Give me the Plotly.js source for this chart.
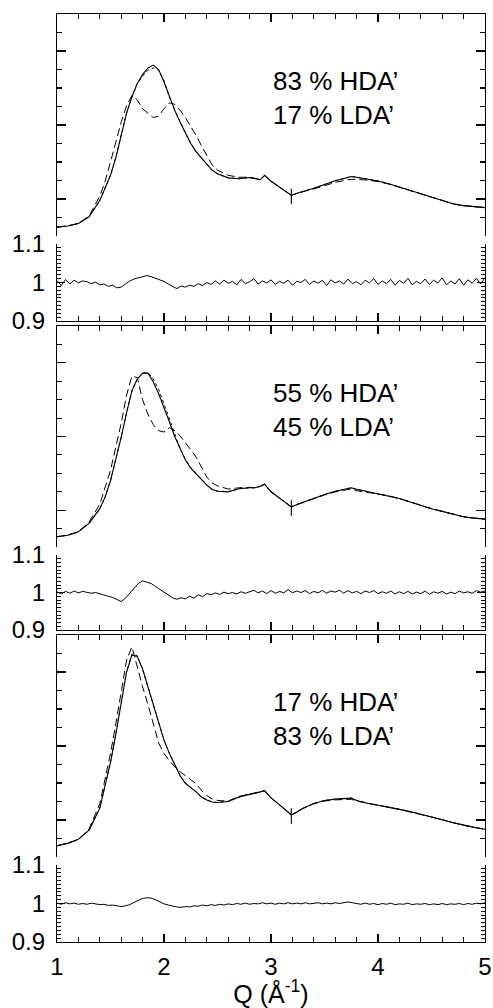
<!DOCTYPE html>
<html>
<head>
<meta charset="utf-8">
<script src="https://cdn.plot.ly/plotly-3.0.1.min.js"></script>
<style>html,body{margin:0;padding:0;background:#fff;}#chart{width:493px;height:1008px;}</style>
</head>
<body>
<div id="chart"></div>
<script>
// ---------- DATA ----------
const qMain = [1.0,1.1,1.2,1.3,1.4,1.45,1.5,1.55,1.6,1.65,1.7,1.75,1.8,1.85,1.9,1.95,2.0,2.05,2.1,2.15,2.2,2.25,2.3,2.35,2.4,2.45,2.5,2.6,2.7,2.8,2.85,2.9,2.94,3.0,3.1,3.15,3.19,3.19,3.19,3.19,3.25,3.3,3.4,3.5,3.6,3.7,3.75,3.8,3.9,4.0,4.1,4.2,4.3,4.4,4.5,4.6,4.7,4.8,4.9,5.0];

// Panel 1 : 83 % HDA' / 17 % LDA'
const solid1 = [0.31,0.318,0.335,0.38,0.49,0.57,0.66,0.78,0.93,1.08,1.19,1.28,1.34,1.385,1.405,1.375,1.29,1.19,1.1,1.02,0.945,0.875,0.82,0.775,0.735,0.695,0.67,0.643,0.637,0.645,0.638,0.63,0.66,0.62,0.57,0.545,0.525,0.57,0.465,0.525,0.54,0.55,0.572,0.598,0.623,0.642,0.652,0.647,0.637,0.622,0.603,0.58,0.556,0.533,0.51,0.488,0.468,0.455,0.45,0.442];
const dash1  = [0.31,0.318,0.335,0.385,0.52,0.62,0.75,0.88,1.02,1.13,1.2,1.17,1.11,1.08,1.05,1.06,1.11,1.15,1.14,1.10,1.05,0.99,0.93,0.86,0.79,0.73,0.695,0.66,0.647,0.647,0.64,0.63,0.66,0.62,0.57,0.545,0.525,0.525,0.525,0.525,0.54,0.548,0.568,0.59,0.612,0.628,0.633,0.632,0.628,0.617,0.601,0.579,0.556,0.533,0.51,0.488,0.468,0.455,0.45,0.442];
const dot1   = [0.31,0.318,0.335,0.38,0.49,0.57,0.66,0.78,0.93,1.08,1.19,1.28,1.33,1.37,1.385,1.37,1.30,1.19,1.1,1.02,0.945,0.875,0.82,0.775,0.735,0.695,0.67,0.643,0.637,0.645,0.638,0.63,0.66,0.62,0.57,0.545,0.525,0.525,0.525,0.525,0.54,0.55,0.572,0.598,0.623,0.642,0.652,0.647,0.637,0.622,0.603,0.58,0.556,0.533,0.51,0.488,0.468,0.455,0.45,0.442];

// Panel 2 : 55 % HDA' / 45 % LDA'
const solid2 = [0.32,0.33,0.353,0.41,0.51,0.59,0.70,0.84,0.995,1.16,1.31,1.39,1.43,1.43,1.37,1.29,1.2,1.1,1.0,0.915,0.84,0.785,0.745,0.705,0.67,0.64,0.628,0.624,0.645,0.652,0.652,0.662,0.676,0.625,0.57,0.54,0.522,0.567,0.462,0.522,0.54,0.553,0.582,0.606,0.628,0.645,0.652,0.642,0.626,0.613,0.598,0.579,0.556,0.532,0.51,0.492,0.472,0.455,0.446,0.439];
const dash2  = [0.32,0.33,0.353,0.42,0.54,0.65,0.77,0.93,1.09,1.28,1.41,1.40,1.25,1.15,1.08,1.04,1.03,1.06,1.04,1.005,0.96,0.91,0.86,0.79,0.725,0.685,0.665,0.643,0.652,0.655,0.652,0.662,0.676,0.625,0.57,0.54,0.522,0.522,0.522,0.522,0.54,0.553,0.58,0.603,0.624,0.64,0.644,0.632,0.62,0.611,0.598,0.579,0.556,0.532,0.51,0.492,0.472,0.455,0.446,0.439];
const dot2   = [0.32,0.33,0.353,0.41,0.51,0.59,0.70,0.84,0.995,1.16,1.31,1.39,1.43,1.435,1.39,1.32,1.22,1.12,1.01,0.92,0.845,0.79,0.748,0.708,0.672,0.642,0.63,0.626,0.645,0.652,0.652,0.662,0.676,0.625,0.57,0.54,0.522,0.522,0.522,0.522,0.54,0.553,0.582,0.606,0.628,0.645,0.652,0.642,0.626,0.613,0.598,0.579,0.556,0.532,0.51,0.492,0.472,0.455,0.446,0.439];

// Panel 3 : 17 % HDA' / 83 % LDA'
const solid3 = [0.326,0.342,0.369,0.432,0.58,0.725,0.89,1.08,1.29,1.50,1.615,1.605,1.52,1.40,1.27,1.15,1.04,0.95,0.87,0.80,0.748,0.72,0.69,0.655,0.635,0.622,0.618,0.625,0.655,0.673,0.68,0.69,0.698,0.65,0.59,0.558,0.534,0.579,0.474,0.534,0.557,0.579,0.612,0.632,0.641,0.645,0.648,0.632,0.613,0.6,0.588,0.572,0.557,0.54,0.52,0.502,0.482,0.464,0.45,0.437];
const dash3  = [0.326,0.342,0.369,0.44,0.61,0.77,0.95,1.15,1.38,1.58,1.67,1.53,1.40,1.28,1.14,1.02,0.95,0.90,0.86,0.826,0.80,0.77,0.745,0.70,0.665,0.642,0.632,0.628,0.66,0.675,0.68,0.69,0.698,0.65,0.59,0.558,0.534,0.534,0.534,0.534,0.557,0.579,0.61,0.628,0.636,0.638,0.64,0.628,0.612,0.6,0.588,0.572,0.557,0.54,0.52,0.502,0.482,0.464,0.45,0.437];
const dot3   = [0.326,0.342,0.369,0.432,0.58,0.725,0.89,1.08,1.29,1.50,1.62,1.61,1.52,1.40,1.27,1.15,1.04,0.95,0.87,0.80,0.748,0.72,0.69,0.655,0.635,0.622,0.618,0.625,0.655,0.673,0.68,0.69,0.698,0.65,0.59,0.558,0.534,0.534,0.534,0.534,0.557,0.579,0.612,0.632,0.641,0.645,0.648,0.632,0.613,0.6,0.588,0.572,0.557,0.54,0.52,0.502,0.482,0.464,0.45,0.437];

// Ratio (data / fit)
const qRatio = [1.00,1.04,1.08,1.12,1.16,1.20,1.24,1.28,1.32,1.36,1.40,1.44,1.48,1.52,1.56,1.60,1.64,1.68,1.72,1.76,1.80,1.84,1.88,1.92,1.96,2.00,2.04,2.08,2.12,2.16,2.20,2.24,2.28,2.32,2.36,2.40,2.44,2.48,2.52,2.56,2.60,2.64,2.68,2.72,2.76,2.80,2.84,2.88,2.92,2.96,3.00,3.04,3.08,3.12,3.16,3.20,3.24,3.28,3.32,3.36,3.40,3.44,3.48,3.52,3.56,3.60,3.64,3.68,3.72,3.76,3.80,3.84,3.88,3.92,3.96,4.00,4.04,4.08,4.12,4.16,4.20,4.24,4.28,4.32,4.36,4.40,4.44,4.48,4.52,4.56,4.60,4.64,4.68,4.72,4.76,4.80,4.84,4.88,4.92,4.96,5.00];
const ratio1 = [1.005,0.992,1.008,0.996,1.006,0.999,1.004,1.002,0.997,1.001,0.994,0.996,0.990,0.993,0.986,0.988,0.996,1.004,1.009,1.012,1.014,1.018,1.015,1.011,1.006,1.003,0.996,0.990,0.984,0.991,0.988,0.993,0.990,0.997,0.992,1.000,0.995,1.004,0.996,1.006,0.998,1.003,0.994,1.008,0.997,1.002,1.010,0.996,1.004,0.999,1.007,0.995,1.003,0.998,1.006,0.993,1.003,1.000,1.008,0.995,1.004,0.998,1.006,0.992,1.007,0.999,1.004,0.996,1.009,0.997,1.002,0.994,1.006,0.999,1.010,0.995,1.004,0.997,1.008,0.993,1.005,0.998,1.011,0.994,1.003,0.997,1.009,0.995,1.006,0.999,1.012,0.994,1.004,0.996,1.010,0.993,1.007,0.998,1.011,0.996,1.013];
const ratio2 = [1.002,0.996,1.003,0.998,1.004,0.999,1.003,1.001,0.998,1.000,0.996,0.993,0.990,0.987,0.982,0.976,0.985,0.998,1.012,1.024,1.031,1.028,1.024,1.016,1.008,1.000,0.992,0.986,0.982,0.986,0.983,0.990,0.985,0.994,0.989,0.997,0.994,0.999,0.995,1.001,0.997,1.000,0.996,1.002,0.998,1.003,1.006,0.999,1.004,0.997,1.005,0.998,1.003,0.999,1.008,0.999,1.004,1.000,1.005,0.997,1.003,0.999,1.006,0.998,1.004,1.001,1.006,0.998,1.005,0.999,1.003,0.997,1.004,1.000,1.005,0.997,1.002,0.998,1.004,0.996,1.002,0.997,1.003,0.996,1.001,0.997,1.004,0.995,1.002,0.998,1.003,0.996,1.001,0.997,1.004,0.999,1.002,0.998,1.005,1.001,1.004];
const ratio3 = [1.001,0.998,1.002,0.999,1.001,0.998,1.000,0.998,1.001,0.998,0.997,0.998,0.995,0.996,0.994,0.992,0.994,0.997,1.003,1.009,1.013,1.015,1.014,1.010,1.004,0.999,0.996,0.993,0.991,0.990,0.992,0.991,0.994,0.993,0.996,0.994,0.997,0.995,0.998,0.996,0.999,0.997,1.000,0.998,1.001,0.998,1.000,0.999,1.002,0.999,1.001,0.998,1.001,0.999,1.002,0.999,1.001,0.999,1.002,0.999,1.000,1.002,0.999,1.001,0.999,1.002,1.000,1.003,1.004,1.002,1.000,0.998,1.001,0.998,1.000,0.997,1.000,0.998,1.001,0.997,0.999,0.998,1.001,0.997,0.999,0.998,1.000,0.997,0.999,0.997,1.000,0.997,0.999,0.998,1.000,0.997,1.000,0.998,1.001,0.999,1.002];

const labels = ["83 % HDA’<br>17 % LDA’", "55 % HDA’<br>45 % LDA’", "17 % HDA’<br>83 % LDA’"];
const xTickVals = [1,2,3,4,5];
const ratioTickVals = [0.9,1,1.1];
const ratioTickText = ['0.9','1','1.1'];

// ---------- BUILD ----------
const FONT = 'Liberation Sans, Arial, Helvetica, sans-serif';
const panels = [
  {solid: solid1, dash: dash1, dot: dot1, ratio: ratio1, label: labels[0]},
  {solid: solid2, dash: dash2, dot: dot2, ratio: ratio2, label: labels[1]},
  {solid: solid3, dash: dash3, dot: dot3, ratio: ratio3, label: labels[2]}
];
// pixel layout: plot area top=14, bottom=942 (height 928)
const H = 928, B = 942;
const f = p => (B - p) / H;
const mainPix  = [[14,236],[326,547],[635,857]];
const ratioPix = [[244,321],[555,630],[865,942]];

const traces = [];
const layout = {
  width: 493, height: 1008,
  margin: {l: 57, r: 8, t: 14, b: 66},
  paper_bgcolor: '#fff', plot_bgcolor: '#fff',
  showlegend: false,
  font: {family: FONT, color: '#000', size: 24},
  annotations: []
};
const name = (a, n) => n === 1 ? a : a + n;
const key  = (a, n) => n === 1 ? a + 'axis' : a + 'axis' + n;

function xAxis(anchorY, side, showLabels) {
  const ax = {
    anchor: anchorY, side: side, range: [1, 5], domain: [0, 1],
    showline: true, linecolor: '#000', linewidth: 1.2, mirror: false,
    ticks: 'inside', ticklen: 8, tickwidth: 1.3, tickcolor: '#000',
    tickmode: 'array', tickvals: xTickVals, ticktext: xTickVals.map(String),
    showticklabels: showLabels, tickfont: {size: 24, family: FONT},
    showgrid: false, zeroline: false, fixedrange: true,
    minor: {ticks: 'inside', ticklen: 5, tickwidth: 1.1, tickcolor: '#000', tick0: 1, dtick: 0.2, showgrid: false}
  };
  if (showLabels) {
    ax.ticklabelstandoff = 3;
    ax.title = {text: 'Q (Å<sup>-1</sup>)', font: {size: 25, family: FONT}, standoff: 2};
  }
  return ax;
}

panels.forEach((p, i) => {
  const mi = 2 * i + 1, ri = 2 * i + 2;
  const mx = name('x', mi), my = name('y', mi);
  const rx = name('x', ri), ry = name('y', ri);

  traces.push({x: qMain, y: p.dot,   xaxis: mx, yaxis: my, mode: 'lines', line: {color: '#000', width: 1, dash: 'dot'}, hoverinfo: 'skip'});
  traces.push({x: qMain, y: p.dash,  xaxis: mx, yaxis: my, mode: 'lines', line: {color: '#000', width: 1, dash: '8px,4px'}, hoverinfo: 'skip'});
  traces.push({x: qMain, y: p.solid, xaxis: mx, yaxis: my, mode: 'lines', line: {color: '#000', width: 1.1}, hoverinfo: 'skip'});
  traces.push({x: qRatio, y: p.ratio, xaxis: rx, yaxis: ry, mode: 'lines', line: {color: '#000', width: 1}, hoverinfo: 'skip'});

  layout[key('x', mi)] = xAxis(my, 'top', false);
  layout[key('y', mi)] = {
    anchor: mx, domain: [f(mainPix[i][1]), f(mainPix[i][0])], range: [0.25, 1.75],
    showline: true, mirror: 'allticks', linecolor: '#000', linewidth: 1.2,
    ticks: 'inside', ticklen: 9, tickwidth: 1.3, tickcolor: '#000',
    tickmode: 'linear', tick0: 0.5, dtick: 0.5, showticklabels: false,
    showgrid: false, zeroline: false, fixedrange: true,
    minor: {ticks: 'inside', ticklen: 5, tickwidth: 1.1, tickcolor: '#000', tick0: 0.375, dtick: 0.125, showgrid: false}
  };
  layout[key('x', ri)] = xAxis(ry, 'bottom', i === 2);
  layout[key('y', ri)] = {
    anchor: rx, domain: [f(ratioPix[i][1]), f(ratioPix[i][0])], range: [0.9, 1.1],
    showline: true, mirror: 'allticks', linecolor: '#000', linewidth: 1.2,
    ticks: 'inside', ticklen: 8, tickwidth: 1.3, tickcolor: '#000',
    tickmode: 'array', tickvals: ratioTickVals, ticktext: ratioTickText,
    tickfont: {size: 24, family: FONT}, ticklabelstandoff: 6,
    showgrid: false, zeroline: false, fixedrange: true,
    minor: {ticks: 'inside', ticklen: 4, tickwidth: 1, tickcolor: '#000', tick0: 0.9, dtick: 0.01, showgrid: false}
  };

  layout.annotations.push({
    xref: mx, yref: my, x: 3.0, y: 1.18, xanchor: 'left', yanchor: 'middle',
    align: 'left', showarrow: false, text: p.label,
    font: {size: 26, family: FONT, color: '#000'}
  });
});

Plotly.newPlot('chart', traces, layout, {staticPlot: true, displayModeBar: false});
</script>
</body>
</html>
